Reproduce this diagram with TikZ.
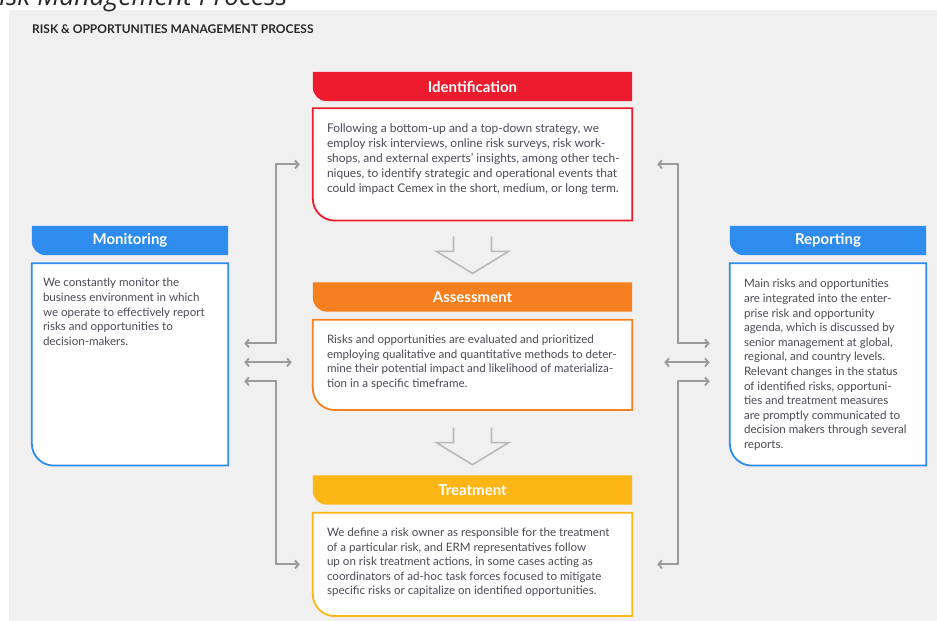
\documentclass[tikz,border=0pt]{standalone}
\usepackage{fontspec}
\setsansfont{Lato}
\newfontfamily\captionFont{Open Sans}
\usetikzlibrary{arrows.meta, positioning, calc, backgrounds}
\definecolor{cRed}{RGB}{236, 28, 46}
\definecolor{cOrange}{RGB}{246, 128, 31}
\definecolor{cAmber}{RGB}{252, 182, 22}
\definecolor{cBlue}{RGB}{45, 140, 238}
\definecolor{cBg}{RGB}{240, 240, 240}
\definecolor{cLink}{RGB}{155, 155, 155}
\definecolor{cHollow}{RGB}{185, 185, 185}
\definecolor{cText}{RGB}{75, 75, 88}
\definecolor{cTitle}{RGB}{40, 40, 40}
\tikzset{
    font=\sffamily,
    headBox/.style={
        minimum width=319pt, minimum height=29pt, inner sep=0pt,
        text=white, font=\sffamily\bfseries\fontsize{15}{16}\selectfont
    },
    frameBox/.style={
        minimum width=319pt, inner sep=0pt
    },
    contentBox/.style={
        anchor=north west,
        align=left,
        inner sep=0pt,
        text=cText,
        font=\sffamily\fontsize{11.6}{14.6}\selectfont
    },
    link/.style={
        draw=cLink, line width=1.9pt,
        {Straight Barb[length=3.5pt,width=8pt]}-{Straight Barb[length=3.5pt,width=8pt]}
    },
    hollowArrow/.style={draw=cHollow, line width=1.6pt, line join=miter}
}
\newcommand{\headShape}[2]{%
    \fill[#2] (#1.north west) -- (#1.north east) -- (#1.south east)
        -- ([xshift=14pt]#1.south west) arc[start angle=270, end angle=180, radius=14pt] -- cycle;
}
\newcommand{\bodyShape}[2]{%
    \draw[#2, fill=white, line width=1.8pt] (#1.north west) -- (#1.north east) -- (#1.south east)
        -- ([xshift=22pt]#1.south west) arc[start angle=270, end angle=180, radius=22pt] -- cycle;
}
\newcommand{\flowArrow}[1]{%
    \draw[hollowArrow, shift={(#1)}] (-19,15) -- (-19,0) -- (-36,0) -- (0,-22) -- (36,0) -- (19,0) -- (19,15);
}

\begin{document}
\begin{tikzpicture}[x=1pt, y=1pt]
    \useasboundingbox (0,0) rectangle (937,621);

    \node[anchor=base west, inner sep=0pt, font=\captionFont\itshape\fontsize{26.5}{30}\selectfont, text=cTitle] (caption) at (-16,615) {Risk Management Process};
    \node[anchor=west, inner sep=0pt, font=\sffamily\bfseries\fontsize{12}{14}\selectfont, text=cTitle] (title) at (32,592) {RISK \& OPPORTUNITIES MANAGEMENT PROCESS};

    \node[headBox] (idHead) at (472.5,534.5) {Identification};
    \node[frameBox, minimum height=112pt, below=7pt of idHead] (idBox) {};
    \node[headBox] (asHead) at (472.5,324) {Assessment};
    \node[frameBox, minimum height=90pt, below=8pt of asHead] (asBox) {};
    \node[headBox] (trHead) at (472.5,131) {Treatment};
    \node[frameBox, minimum height=103pt, below=8pt of trHead] (trBox) {};
    \node[headBox, minimum width=196pt] (monHead) at (130,380.5) {Monitoring};
    \node[frameBox, minimum width=196pt, minimum height=202pt, below=8pt of monHead] (monBox) {};
    \node[headBox, minimum width=196pt] (repHead) at (828,380.5) {Reporting};
    \node[frameBox, minimum width=196pt, minimum height=202pt, below=8pt of repHead] (repBox) {};

    \node[contentBox, font=\sffamily\fontsize{12}{15}\selectfont] (idText) at ([xshift=14pt, yshift=-15pt]idBox.north west) {
        Following a bottom-up and a top-down strategy, we\\
        employ risk interviews, online risk surveys, risk work-\\
        shops, and external experts' insights, among other tech-\\
        niques, to identify strategic and operational events that\\
        could impact Cemex in the short, medium, or long term.};
    \node[contentBox] (asText) at ([xshift=14pt, yshift=-15pt]asBox.north west) {
        Risks and opportunities are evaluated and prioritized\\
        employing qualitative and quantitative methods to deter-\\
        mine their potential impact and likelihood of materializa-\\
        tion in a specific timeframe.};
    \node[contentBox] (trText) at ([xshift=14pt, yshift=-15pt]trBox.north west) {
        We define a risk owner as responsible for the treatment\\
        of a particular risk, and ERM representatives follow\\
        up on risk treatment actions, in some cases acting as\\
        coordinators of ad-hoc task forces focused to mitigate\\
        specific risks or capitalize on identified opportunities.};
    \node[contentBox] (monText) at ([xshift=11pt, yshift=-15pt]monBox.north west) {
        We constantly monitor the\\
        business environment in which\\
        we operate to effectively report\\
        risks and opportunities to\\
        decision-makers.};
    \node[contentBox] (repText) at ([xshift=14pt, yshift=-16pt]repBox.north west) {
        Main risks and opportunities\\
        are integrated into the enter-\\
        prise risk and opportunity\\
        agenda, which is discussed by\\
        senior management at global,\\
        regional, and country levels.\\
        Relevant changes in the status\\
        of identified risks, opportuni-\\
        ties and treatment measures\\
        are promptly communicated to\\
        decision makers through several\\
        reports.};

    \begin{scope}[on background layer]
        \fill[cBg] (9,0) rectangle (937,611);
        \headShape{idHead}{cRed}
        \bodyShape{idBox}{cRed}
        \headShape{asHead}{cOrange}
        \bodyShape{asBox}{cOrange}
        \headShape{trHead}{cAmber}
        \bodyShape{trBox}{cAmber}
        \headShape{monHead}{cBlue}
        \bodyShape{monBox}{cBlue}
        \headShape{repHead}{cBlue}
        \bodyShape{repBox}{cBlue}
    \end{scope}

    \coordinate (lBus) at (276,0);
    \coordinate (rBus) at (678,0);
    \coordinate (monA) at ([xshift=16pt, yshift=21pt]monBox.east);
    \coordinate (monB) at ([xshift=16pt, yshift=2pt]monBox.east);
    \coordinate (monC) at ([xshift=16pt, yshift=-17pt]monBox.east);
    \coordinate (repA) at ([xshift=-20pt, yshift=21pt]repBox.west);
    \coordinate (repB) at ([xshift=-20pt, yshift=2pt]repBox.west);
    \coordinate (repC) at ([xshift=-20pt, yshift=-17pt]repBox.west);

    \draw[link] (monA) -| (lBus |- idBox.west) -- ([xshift=-13pt]idBox.west);
    \draw[link] (monB) -- ([xshift=-21pt]asBox.west |- monB);
    \draw[link] (monC) -| (lBus |- trBox.west) -- ([xshift=-13pt]trBox.west);
    \draw[link] (repA) -| (rBus |- idBox.east) -- ([xshift=25pt]idBox.east);
    \draw[link] (repB) -- ([xshift=32pt]asBox.east |- repB);
    \draw[link] (repC) -| (rBus |- trBox.east) -- ([xshift=25pt]trBox.east);

    \coordinate (flowA) at ($(idBox.south)!0.5!(asHead.north)$);
    \coordinate (flowB) at ($(asBox.south)!0.5!(trHead.north)$);
    \flowArrow{flowA}
    \flowArrow{flowB}
\end{tikzpicture}
\end{document}
